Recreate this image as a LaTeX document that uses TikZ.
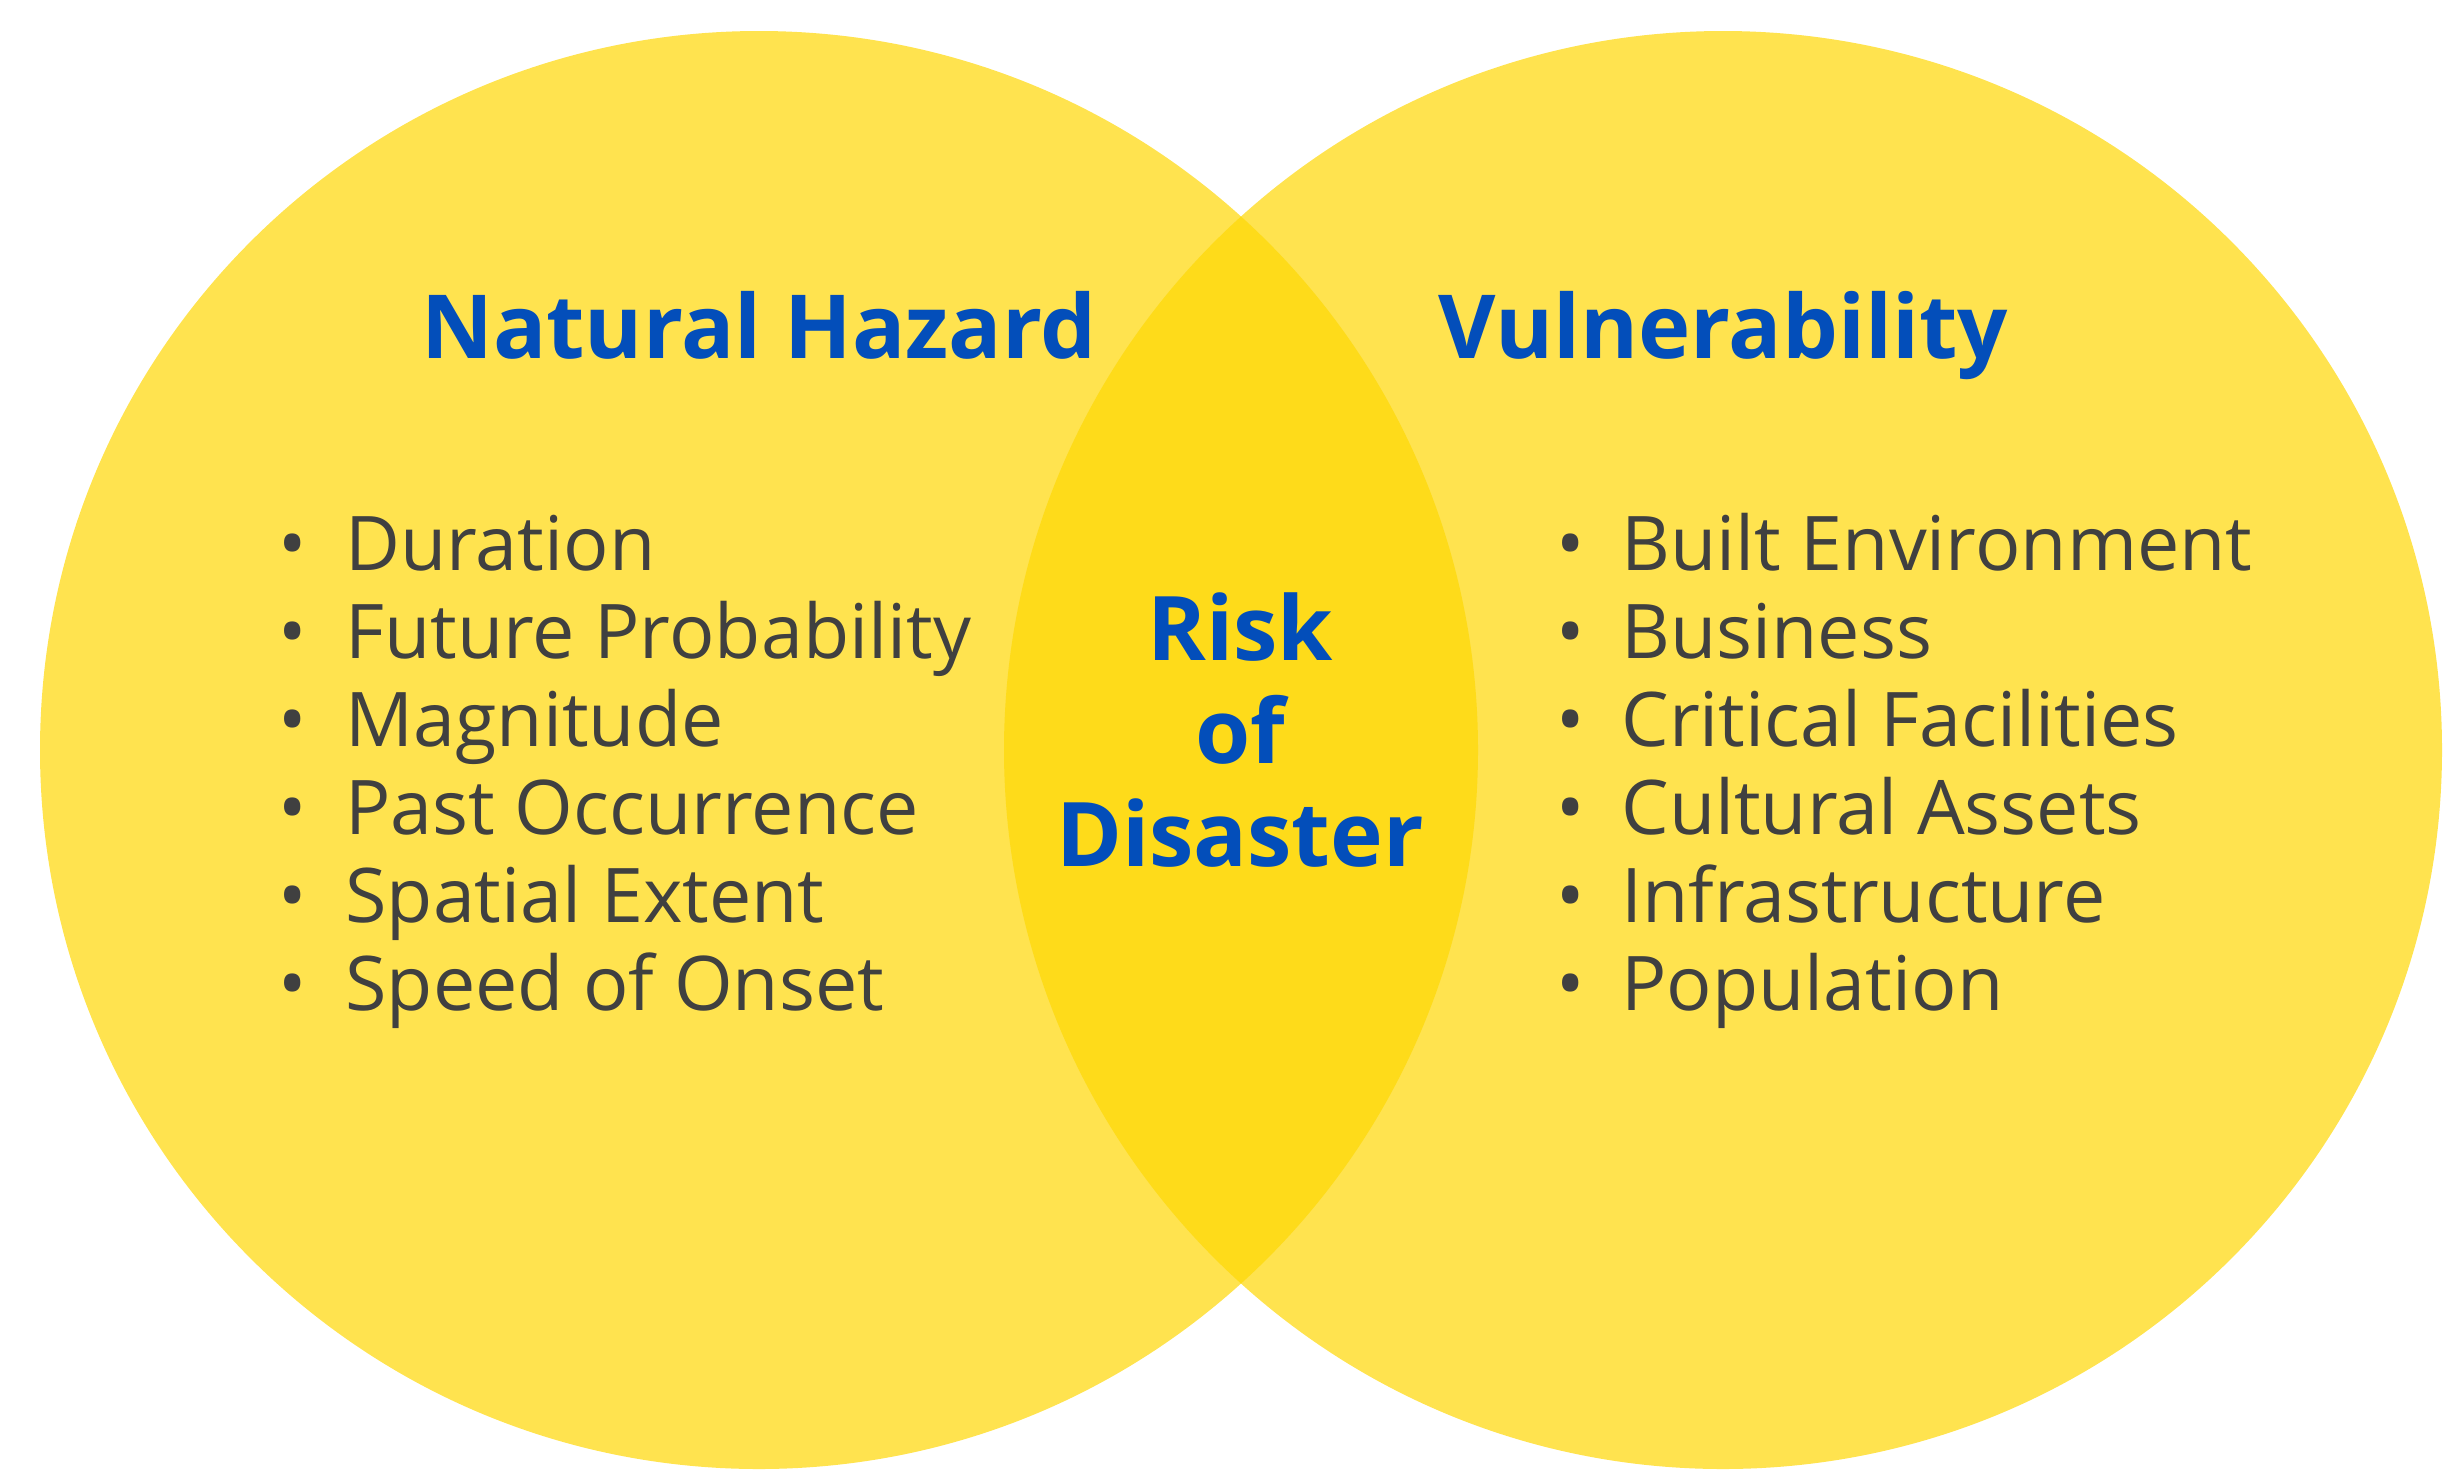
\documentclass[tikz,border=0pt]{standalone}
\usepackage{fontspec}
\setmainfont{Open Sans}
\usepackage{tikz}
\definecolor{sunlight}{HTML}{FFE34F}
\definecolor{sundeep}{HTML}{FEDB1A}
\definecolor{riskblue}{HTML}{034EBA}
\definecolor{itemgray}{HTML}{404040}
\tikzstyle{heading}=[inner sep=0pt, anchor=base, text=riskblue, font=\fontsize{44.2}{52}\selectfont\bfseries]
\tikzstyle{riskword}=[inner sep=0pt, anchor=base, text=riskblue, font=\fontsize{44.6}{52}\selectfont\bfseries]
\tikzstyle{entry}=[inner sep=0pt, anchor=base west, text=itemgray, font=\fontsize{37.7}{44}\selectfont]
\tikzstyle{bullet}=[inner sep=0pt, anchor=base, text=itemgray, font=\fontsize{37.7}{44}\selectfont]
\newcommand{\entry}{\node[entry]}

\begin{document}
\begin{tikzpicture}[x=0.5pt, y=-0.5pt]
\useasboundingbox (0,0) rectangle (2461,1469);

\coordinate (hazard) at (759,750);
    \coordinate (vuln) at (1723,750);
    \fill[sunlight] (hazard) circle [radius=719];
    \fill[sunlight] (vuln) circle [radius=719];
    \begin{scope}
    \clip (hazard) circle [radius=719];
    \fill[sundeep] (vuln) circle [radius=719];
    \end{scope}

\node[heading] (hazardtitle) at (759,358) {Natural Hazard};
    \node[heading] (vulntitle) at (1723,358) {Vulnerability};

\node[riskword] (risk) at (1240,660) {Risk};
    \node[riskword] (of) at (1240,763) {of};
    \node[riskword] (disaster) at (1240,866) {Disaster};

\foreach \txt [count=\i] in {Duration, Future Probability, Magnitude, Past Occurrence, Spatial Extent, Speed of Onset}
    {
    \node[bullet] (hb\i) at (293,482+88*\i) {•};
    \entry (h\i) at (345,482+88*\i) {\txt};
    }
\foreach \txt [count=\i] in {Built Environment, Business, Critical Facilities, Cultural Assets, Infrastructure, Population}
    {
    \node[bullet] (vb\i) at (1571,482+88*\i) {•};
    \entry (v\i) at (1621,482+88*\i) {\txt};
    }
\end{tikzpicture}
\end{document}
